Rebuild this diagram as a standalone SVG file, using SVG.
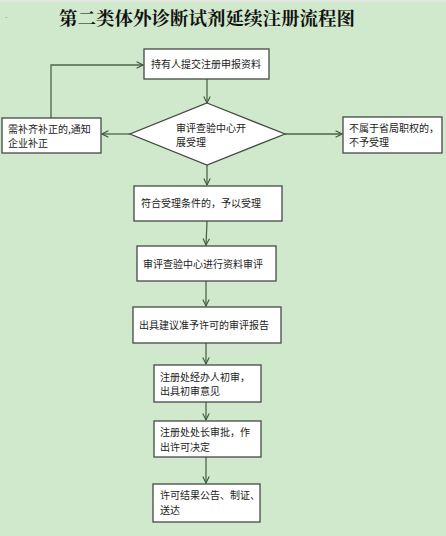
<svg xmlns="http://www.w3.org/2000/svg" width="446" height="536" viewBox="0 0 446 536">
<defs>
<marker id="arr" viewBox="0 0 10 10" refX="9" refY="5" markerWidth="8" markerHeight="8" markerUnits="userSpaceOnUse" orient="auto">
<path d="M1,1 L9,5 L1,9" fill="none" stroke="#3f5a3f" stroke-width="1.4"/>
</marker>
<style>
.box{fill:#ffffff;stroke:#444a44;stroke-width:1.3}
.t{font-family:"Noto Sans CJK SC","Noto Sans",sans-serif;font-size:10px;fill:#222}
.c{fill:none;stroke:#4b664b;stroke-width:1.3;marker-end:url(#arr)}
.title{font-family:"Noto Serif CJK SC","Noto Sans CJK SC",serif;font-size:18.5px;font-weight:bold;fill:#111}
</style>
</defs>
<rect x="0" y="0" width="446" height="536" fill="#d0e8cb"/>
<rect x="0" y="0" width="446" height="2" fill="#e4e8e2"/>
<text x="5" y="19" font-family="Liberation Sans,sans-serif" font-size="8" fill="#999">-</text>
<text class="title" x="59" y="25">第二类体外诊断试剂延续注册流程图</text>

<g id="connectors">
<line class="c" x1="207" y1="79" x2="207" y2="103"/>
<line class="c" x1="130" y1="134" x2="102" y2="134"/>
<line class="c" x1="285" y1="134" x2="342" y2="134"/>
<polyline class="c" points="51,118 51,65 143,65"/>
<line class="c" x1="207" y1="165" x2="207" y2="185"/>
<line class="c" x1="207" y1="221" x2="206" y2="245"/>
<line class="c" x1="206" y1="281" x2="206" y2="306"/>
<line class="c" x1="206" y1="343" x2="206" y2="364"/>
<line class="c" x1="206" y1="402" x2="206" y2="420"/>
<line class="c" x1="206" y1="457" x2="206" y2="483"/>
</g>

<g id="n1"><rect class="box" x="144" y="49" width="125" height="30"/><text class="t" x="151" y="68">持有人提交注册申报资料</text></g>
<g id="n2"><polygon class="box" points="207,103 285,134 207,165 130,134"/><text class="t" x="176" y="131.5">审评查验中心开</text><text class="t" x="176" y="146">展受理</text></g>
<g id="n3"><rect class="box" x="2" y="118" width="99" height="35"/><text class="t" x="8" y="132.5">需补齐补正的,通知</text><text class="t" x="8" y="147">企业补正</text></g>
<g id="n4"><rect class="box" x="343" y="117" width="99" height="36"/><text class="t" x="349" y="131.5">不属于省局职权的，</text><text class="t" x="349" y="146">不予受理</text></g>
<g id="n5"><rect class="box" x="134" y="186" width="148" height="35"/><text class="t" x="141" y="207">符合受理条件的，予以受理</text></g>
<g id="n6"><rect class="box" x="137" y="246" width="139" height="35"/><text class="t" x="143" y="268">审评查验中心进行资料审评</text></g>
<g id="n7"><rect class="box" x="133" y="307" width="148" height="36"/><text class="t" x="139" y="329">出具建议准予许可的审评报告</text></g>
<g id="n8"><rect class="box" x="154" y="365" width="107" height="37"/><text class="t" x="160" y="380.5">注册处经办人初审，</text><text class="t" x="160" y="395">出具初审意见</text></g>
<g id="n9"><rect class="box" x="154" y="421" width="107" height="36"/><text class="t" x="160" y="436">注册处处长审批，作</text><text class="t" x="160" y="450.5">出许可决定</text></g>
<g id="n10"><rect class="box" x="153" y="484" width="107" height="38"/><text class="t" x="160" y="499">许可结果公告、制证、</text><text class="t" x="160" y="513.5">送达</text></g>
</svg>
